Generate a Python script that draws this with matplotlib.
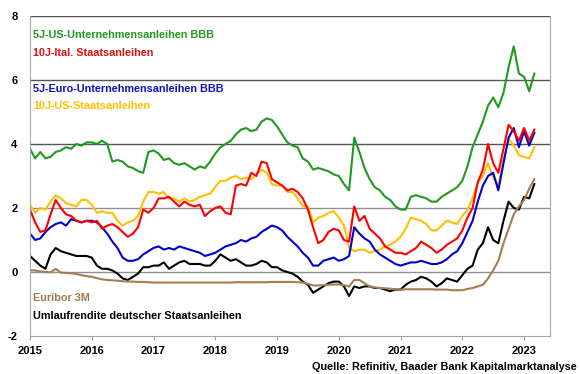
import matplotlib
matplotlib.use("Agg")
import matplotlib.pyplot as plt
import numpy as np

# Monatswerte Jan 2015 - Mar 2023
start_year = 2015
n_months = 99
dates = start_year + np.arange(n_months) / 12.0

us_bbb_5y = [
    3.85, 3.55, 3.75, 3.55, 3.6, 3.75, 3.8, 3.9, 3.85, 4.0, 3.95, 4.05,
    4.05, 4.0, 4.1, 4.0, 3.45, 3.5, 3.45, 3.3, 3.25, 3.15, 3.1, 3.75,
    3.8, 3.7, 3.5, 3.55, 3.4, 3.35, 3.4, 3.3, 3.2, 3.3, 3.25, 3.45,
    3.7, 3.9, 4.0, 4.1, 4.3, 4.45, 4.5, 4.4, 4.45, 4.7, 4.8, 4.75,
    4.55, 4.3, 4.05, 3.95, 3.9, 3.55, 3.45, 3.2, 3.25, 3.2, 3.15, 3.05,
    3.0, 2.75, 2.55, 4.2, 3.75, 3.25, 2.9, 2.65, 2.55, 2.35, 2.25, 2.05,
    1.95, 1.95, 2.35, 2.4, 2.35, 2.3, 2.2, 2.2, 2.35, 2.45, 2.55, 2.65,
    2.85, 3.3, 3.9, 4.3, 4.7, 5.2, 5.45, 5.15, 5.6, 6.4, 7.05, 6.2,
    6.1, 5.65, 6.2,
]
it_10y = [
    1.95, 1.55, 1.25, 1.3, 1.8, 2.25, 2.0, 1.8, 1.75, 1.6, 1.55, 1.6,
    1.55, 1.6, 1.35, 1.45, 1.5, 1.4, 1.25, 1.1, 1.2, 1.4, 1.95, 1.85,
    2.0, 2.3, 2.3, 2.35, 2.2, 2.05, 2.2, 2.1, 2.05, 2.1, 1.75, 1.9,
    2.0, 2.05, 1.85, 1.8, 2.7, 2.75, 2.7, 3.1, 3.0, 3.45, 3.4, 2.9,
    2.8, 2.7, 2.55, 2.6, 2.5, 2.3, 1.95, 1.4, 0.9, 1.0, 1.25, 1.35,
    1.3, 1.0, 0.95, 2.05, 1.6, 1.75, 1.35, 1.2, 1.05, 0.8, 0.7, 0.6,
    0.6, 0.55, 0.65, 0.75, 0.95, 0.85, 0.75, 0.6, 0.7, 0.85, 0.95, 1.05,
    1.3, 1.7, 2.0, 2.8, 3.2, 4.0, 3.4, 3.1, 3.85, 4.6, 4.4, 4.1,
    4.5, 4.1, 4.45,
]
eur_bbb_5y = [
    1.2, 1.0, 1.05, 1.25, 1.4, 1.5, 1.55, 1.45, 1.65, 1.6, 1.55, 1.6,
    1.6, 1.55, 1.4, 1.2, 0.95, 0.75, 0.45, 0.35, 0.35, 0.4, 0.55, 0.65,
    0.75, 0.8, 0.7, 0.75, 0.7, 0.8, 0.75, 0.7, 0.65, 0.6, 0.5, 0.55,
    0.6, 0.7, 0.8, 0.85, 0.9, 1.0, 0.95, 1.05, 1.1, 1.25, 1.35, 1.45,
    1.4, 1.3, 1.1, 0.95, 0.8, 0.6, 0.45, 0.2, 0.2, 0.35, 0.4, 0.45,
    0.35, 0.4, 0.5, 1.4, 1.2, 1.05, 0.95, 0.7, 0.55, 0.45, 0.35, 0.25,
    0.2, 0.25, 0.3, 0.3, 0.35, 0.3, 0.25, 0.25, 0.3, 0.4, 0.55, 0.65,
    0.9, 1.25, 1.6, 2.2, 2.7, 3.0, 3.1, 2.55, 3.4, 4.2, 4.5, 3.9,
    4.4, 3.95, 4.35,
]
us_10y = [
    2.1, 1.85, 2.0, 1.95, 2.2, 2.4, 2.3, 2.15, 2.1, 2.05, 2.25, 2.25,
    2.1, 1.85, 1.9, 1.85, 1.85, 1.6, 1.45, 1.55, 1.6, 1.75, 2.2, 2.5,
    2.5, 2.45, 2.5, 2.3, 2.3, 2.2, 2.3, 2.2, 2.25, 2.35, 2.4, 2.45,
    2.65, 2.85, 2.85, 2.95, 3.0, 2.9, 2.95, 2.9, 3.05, 3.2, 3.1, 2.75,
    2.7, 2.7, 2.5, 2.5, 2.3, 2.05, 2.05, 1.55, 1.7, 1.75, 1.85, 1.9,
    1.7, 1.45, 0.75, 0.65, 0.7, 0.7, 0.6, 0.65, 0.7, 0.8, 0.85, 0.95,
    1.1, 1.35, 1.7, 1.65, 1.6, 1.5, 1.3, 1.3, 1.45, 1.6, 1.55, 1.5,
    1.75, 1.95, 2.3, 2.8, 3.0, 3.4, 2.95, 2.7, 3.5, 4.15, 3.95, 3.65,
    3.6, 3.55, 3.9,
]
euribor_3m = [
    0.05, 0.05, 0.02, 0.0, -0.01, 0.1, -0.02, -0.03, -0.04, -0.06, -0.1, -0.13,
    -0.15, -0.19, -0.23, -0.25, -0.26, -0.27, -0.29, -0.3, -0.3, -0.31, -0.31, -0.32,
    -0.33, -0.33, -0.33, -0.33, -0.33, -0.33, -0.33, -0.33, -0.33, -0.33, -0.33, -0.33,
    -0.33, -0.33, -0.33, -0.33, -0.32, -0.32, -0.32, -0.32, -0.32, -0.32, -0.32, -0.31,
    -0.31, -0.31, -0.31, -0.31, -0.32, -0.33, -0.37, -0.42, -0.42, -0.41, -0.4, -0.39,
    -0.39, -0.41, -0.45, -0.25, -0.25, -0.35, -0.45, -0.48, -0.5, -0.51, -0.52, -0.54,
    -0.55, -0.54, -0.54, -0.54, -0.54, -0.54, -0.54, -0.55, -0.55, -0.55, -0.57, -0.57,
    -0.57, -0.53, -0.5, -0.45, -0.4, -0.2, 0.05, 0.35, 0.9, 1.35, 1.8, 2.05,
    2.25, 2.6, 2.9,
]
umlaufrendite = [
    0.5, 0.35, 0.2, 0.1, 0.55, 0.75, 0.65, 0.6, 0.55, 0.5, 0.5, 0.5,
    0.45, 0.2, 0.1, 0.1, 0.05, -0.05, -0.2, -0.25, -0.15, -0.05, 0.15, 0.15,
    0.2, 0.2, 0.3, 0.1, 0.2, 0.3, 0.35, 0.25, 0.25, 0.25, 0.2, 0.2,
    0.35, 0.55, 0.45, 0.35, 0.4, 0.3, 0.2, 0.2, 0.25, 0.35, 0.3, 0.15,
    0.15, 0.05, 0.0, -0.05, -0.15, -0.3, -0.4, -0.65, -0.55, -0.45, -0.35, -0.3,
    -0.3, -0.45, -0.75, -0.45, -0.5, -0.45, -0.45, -0.5, -0.5, -0.55, -0.6, -0.55,
    -0.55, -0.4, -0.3, -0.25, -0.15, -0.2, -0.3, -0.45, -0.35, -0.2, -0.25, -0.3,
    -0.1, 0.1, 0.2, 0.7, 0.9, 1.4, 1.0, 0.9, 1.6, 2.2, 2.0, 1.95,
    2.35, 2.3, 2.75,
]

series = [
    ("5J-US-Unternehmensanleihen BBB", us_bbb_5y, "#1e9a1e"),
    ("10J-US-Staatsanleihen", us_10y, "#ffc000"),
    ("5J-Euro-Unternehmensanleihen BBB", eur_bbb_5y, "#0000cc"),
    ("10J-Ital. Staatsanleihen", it_10y, "#ff0000"),
    ("Umlaufrendite deutscher Staatsanleihen", umlaufrendite, "#000000"),
    ("Euribor 3M", euribor_3m, "#a67c52"),
]
# Beschriftungen im Diagramm (Reihenfolge von oben)
label_rows = [
    ("5J-US-Unternehmensanleihen BBB", "#1e9a1e", 7.42),
    ("10J-Ital. Staatsanleihen", "#e01010", 6.83),
    ("5J-Euro-Unternehmensanleihen BBB", "#1010c0", 5.73),
    ("10J-US-Staatsanleihen", "#ffc000", 5.19),
    ("Euribor 3M", "#a0784f", -0.82),
    ("Umlaufrendite deutscher Staatsanleihen", "#000000", -1.37),
]
year_ticks = list(range(2015, 2024))
y_ticks = [-2, 0, 2, 4, 6, 8]

plt.rcParams['font.family'] = ['Liberation Sans', 'DejaVu Sans']

fig = plt.figure(figsize=(5.8, 3.74), dpi=100)
ax = fig.add_axes([30/580, 1 - 336/374, 520/580, 320/374])

for name, vals, col in series:
    ax.plot(dates, vals, color=col, lw=1.5, solid_joinstyle='round')

ax.set_xlim(2015, 2023.42)
ax.set_ylim(-2, 8)
for yv in [4, 6, 8]:
    ax.axhline(yv, color='#555555', lw=1.0, zorder=0)
for yv in [0, 2]:
    ax.axhline(yv, color='#909090', lw=1.0, zorder=0)

ax.set_xticks(year_ticks)
ax.set_xticklabels([str(y) for y in year_ticks], fontweight='bold', fontsize=8)
ax.set_yticks(y_ticks)
ax.set_yticklabels([str(y) for y in y_ticks], fontweight='bold', fontsize=8)
ax.tick_params(axis='x', direction='out', length=3, color='#a0a0a0', pad=4)
ax.tick_params(axis='y', length=0, pad=9)
for s in ['left', 'right', 'bottom']:
    ax.spines[s].set_color('#a6a6a6')
ax.spines['top'].set_visible(False)

for txt, col, yv in label_rows:
    ax.text(2015.05, yv, txt, color=col, fontweight='bold', fontsize=7.8, va='center', ha='left')

fig.text(577/580, 1 - 367/374, "Quelle: Refinitiv, Baader Bank Kapitalmarktanalyse",
         ha='right', va='center', fontweight='bold', fontsize=7.8)

plt.savefig("out.png", dpi=100)
